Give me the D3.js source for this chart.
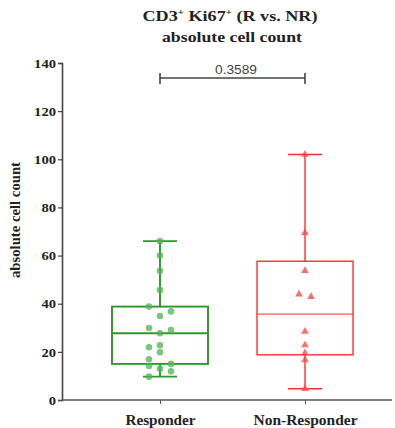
<!DOCTYPE html>
<html><head><meta charset="utf-8">
<script src="https://cdn.jsdelivr.net/npm/d3@7"></script>
<style>body{margin:0;background:#fff}</style>
</head><body>
<script>
const groups = ["Responder", "Non-Responder"];
const responderValues = [66, 60, 53.7, 45.7, 38.8, 36.8, 34.9, 29.9, 29.1, 27.7, 21.9, 22.7, 19.8, 16.9, 14.1, 13, 15, 11.9, 9.7];
const responderJitter = [0, 0, 0, 0, -1, 1, 0, -1, 1, 0, -1, 0, 0, -1, -1, 0, 1, 1, -1];
const nonResponderValues = [102, 69.5, 53.7, 43.9, 42.9, 28.5, 22.8, 19.5, 16.6, 4.7];
const nonResponderJitter = [0, 0, 0, -1, 1, 0, 0, 0, 0, 0];
const yTicks = [0, 20, 40, 60, 80, 100, 120, 140];
const pValue = "0.3589";

const W = 395, H = 428;
const svg = d3.select("body").append("svg").attr("width", W).attr("height", H);
const y = d3.scaleLinear().domain([0, 140]).range([400, 63]);
const xp = d3.scalePoint().domain(groups).range([160, 305]);

function q(arr, p) {
  const s = arr.slice().sort((a,b)=>a-b), n = s.length;
  const pos = (n + 1) * p;
  const lo = Math.floor(pos), f = pos - lo;
  if (lo < 1) return s[0];
  if (lo >= n) return s[n-1];
  return s[lo-1] + f * (s[lo] - s[lo-1]);
}

const serif = "'Liberation Serif','Times New Roman',serif";

// Title
svg.append("text").attr("x", 230).attr("y", 21).attr("text-anchor","middle")
  .attr("font-family", serif).attr("font-weight","bold").attr("font-size", 15).attr("fill","#222")
  .attr("textLength",175).attr("lengthAdjust","spacingAndGlyphs")
  .html('CD3<tspan dy="-6" font-size="9">+</tspan><tspan dy="6"> Ki67</tspan><tspan dy="-6" font-size="9">+</tspan><tspan dy="6"> (R vs. NR)</tspan>');
svg.append("text").attr("x", 232).attr("y", 42).attr("text-anchor","middle")
  .attr("font-family", serif).attr("font-weight","bold").attr("font-size", 15).attr("fill","#222")
  .attr("textLength",140).attr("lengthAdjust","spacingAndGlyphs")
  .text("absolute cell count");

// Y axis
const yAxis = d3.axisLeft(y).tickValues(yTicks).tickSize(4).tickPadding(2);
const ya = svg.append("g").attr("transform","translate(62,0)").call(yAxis);
ya.select(".domain").attr("stroke","#444").attr("stroke-width",1.6);
ya.selectAll(".tick line").attr("stroke","#444").attr("stroke-width",1.2);
ya.selectAll(".tick text").attr("font-family", serif).attr("font-weight","bold").attr("font-size",13).attr("fill","#222")
  .attr("textLength", d => String(d).length * 7.3).attr("lengthAdjust","spacingAndGlyphs");

svg.append("text").attr("transform","translate(20,220) rotate(-90)").attr("text-anchor","middle")
  .attr("font-family", serif).attr("font-weight","bold").attr("font-size",14).attr("fill","#222")
  .attr("textLength",116).attr("lengthAdjust","spacingAndGlyphs")
  .text("absolute cell count");

// X axis
const xAxis = d3.axisBottom(xp).tickSize(4).tickSizeOuter(0).tickPadding(8);
const xa = svg.append("g").attr("transform","translate(0,400)").call(xAxis);
xa.select(".domain").remove();
svg.append("line").attr("x1",62).attr("x2",392).attr("y1",400).attr("y2",400).attr("stroke","#555").attr("stroke-width",1.4);
xa.selectAll(".tick line").attr("stroke","#555").attr("stroke-width",1);
xa.selectAll(".tick text").attr("font-family", serif).attr("font-weight","bold").attr("font-size",14).attr("fill","#222").attr("dy","0.9em")
  .attr("textLength", d => d === "Responder" ? 70 : 104).attr("lengthAdjust","spacingAndGlyphs");

// Boxes
function drawBox(vals, g, color, boxHalf, capHalf, sw, medW) {
  const c = xp(g);
  const q1 = q(vals, 0.25), med = q(vals, 0.5), q3 = q(vals, 0.75);
  const mn = d3.min(vals), mx = d3.max(vals);
  const G = svg.append("g").attr("stroke", color).attr("fill","none");
  G.append("line").attr("x1",c).attr("x2",c).attr("y1",y(mx)).attr("y2",y(q3)).attr("stroke-width",sw);
  G.append("line").attr("x1",c).attr("x2",c).attr("y1",y(q1)).attr("y2",y(mn)).attr("stroke-width",sw);
  G.append("line").attr("x1",c-capHalf).attr("x2",c+capHalf).attr("y1",y(mx)).attr("y2",y(mx)).attr("stroke-width",sw);
  G.append("line").attr("x1",c-capHalf).attr("x2",c+capHalf).attr("y1",y(mn)).attr("y2",y(mn)).attr("stroke-width",sw);
  G.append("rect").attr("x",c-boxHalf).attr("y",y(q3)).attr("width",boxHalf*2).attr("height",y(q1)-y(q3)).attr("stroke-width",sw);
  G.append("line").attr("x1",c-boxHalf).attr("x2",c+boxHalf).attr("y1",y(med)).attr("y2",y(med)).attr("stroke-width",medW);
}
drawBox(responderValues, "Responder", "#2a982a", 48, 17, 1.9, 2);
drawBox(nonResponderValues, "Non-Responder", "#ff2e2e", 48, 17, 1.4, 1);

// Points
svg.append("g").selectAll("circle").data(responderValues).join("circle")
  .attr("cx",(d,i)=>xp("Responder") + responderJitter[i]*11).attr("cy",d=>y(d)).attr("r",3.3)
  .attr("fill","#52b152").attr("fill-opacity",0.75);
const tri = d3.symbol().type(d3.symbolTriangle).size(26);
svg.append("g").selectAll("path").data(nonResponderValues).join("path")
  .attr("d", tri)
  .attr("transform",(d,i)=>`translate(${xp("Non-Responder") + nonResponderJitter[i]*6},${y(d)})`)
  .attr("fill","#ff4a4a").attr("fill-opacity",0.8);

// Significance bracket
const by = 78;
const sb = svg.append("g").attr("stroke","#444").attr("stroke-width",1.6);
sb.append("line").attr("x1",xp("Responder")).attr("x2",xp("Non-Responder")).attr("y1",by).attr("y2",by);
sb.append("line").attr("x1",xp("Responder")).attr("x2",xp("Responder")).attr("y1",by-5).attr("y2",by+6);
sb.append("line").attr("x1",xp("Non-Responder")).attr("x2",xp("Non-Responder")).attr("y1",by-5).attr("y2",by+6);
svg.append("text").attr("x",236).attr("y",74).attr("text-anchor","middle")
  .attr("font-family","'Liberation Sans',Arial,sans-serif").attr("font-size",12.5).attr("fill","#444")
  .attr("textLength",42).attr("lengthAdjust","spacingAndGlyphs").text(pValue);
</script>
</body></html>
